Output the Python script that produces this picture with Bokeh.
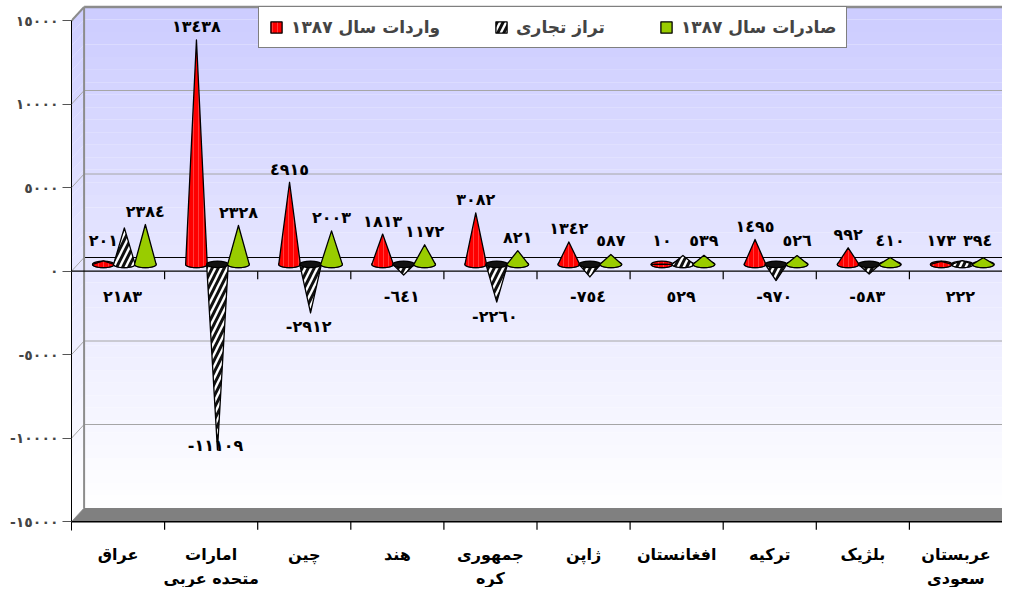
import numpy as np
from bokeh.plotting import figure
from bokeh.models import Range1d, LinearAxis, FixedTicker, Legend, LegendItem
from bokeh.core.properties import value
from bokeh.embed import file_html
from bokeh.resources import INLINE

# ---------------- data ----------------
cat_line1 = ["عراق", "امارات", "چین", "هند", "جمهوری", "ژاپن", "افغانستان", "ترکیه", "بلژیک", "عربستان"]
cat_line2 = ["", "متحده عربی", "", "", "کره", "", "", "", "", "سعودی"]
imports = [201, 13438, 4915, 1813, 3082, 1342, 10, 1495, 992, 173]
balance = [2183, -11109, -2912, -641, -2260, -754, 529, -970, -583, 222]
exports = [2384, 2328, 2003, 1172, 821, 587, 539, 526, 410, 394]
series_names = ["واردات سال ١٣٨٧", "تراز تجاری", "صادرات سال ١٣٨٧"]
y_ticks = [-15000, -10000, -5000, 0, 5000, 10000, 15000]

FONT = "DejaVu Sans"
AR = str.maketrans("0123456789", "٠١٢٣٤٥٦٧٨٩")


def ar(n):
    return ("-" + str(-n).translate(AR)) if n < 0 else str(n).translate(AR)


# ---------------- geometry ----------------
W, H = 1002, 587
LEFT = 71
ZERO = 270.7    # picture y of front zero line
N = len(cat_line1)
KX = (W - LEFT) / N   # px per category
KY = 0.0167     # px per value unit
DX = 12.6 / KX  # depth offset
DY = 13.7 / KY
XEND = (W - LEFT) / KX
YMAX = ZERO / KY
YMIN = YMAX - H / KY


def py(pix):
    """picture y (px) -> value coordinate"""
    return (ZERO - pix) / KY


p = figure(width=W, height=H, output_backend="svg", toolbar_location=None,
           x_range=Range1d(0, XEND), y_range=Range1d(YMIN, YMAX),
           x_axis_type=None, y_axis_type=None,
           min_border_left=LEFT, min_border_right=0, min_border_top=0, min_border_bottom=0,
           background_fill_color="white", border_fill_color="white", outline_line_color=None)

yaxis = LinearAxis(ticker=FixedTicker(ticks=y_ticks), bounds=(-15550, 15000),
                   major_label_overrides={t: ar(t) for t in y_ticks},
                   major_tick_in=0, major_tick_out=9, minor_tick_out=0, minor_tick_in=0,
                   axis_line_color="black", major_tick_line_color="#555555",
                   major_label_text_font=FONT, major_label_text_font_style="bold",
                   major_label_text_font_size="14px", major_label_standoff=4)
p.add_layout(yaxis, "left")


def mix(t):
    top = np.array([204, 204, 255]); bot = np.array([255, 255, 255])
    c = bot + (top - bot) * t
    return "#%02x%02x%02x" % tuple(int(round(v)) for v in c)


# back wall & left wall gradients
NB = 40
edges = np.linspace(-15000, 15000, NB + 1)
bw_l, bw_r, bw_b, bw_t, bw_c = [], [], [], [], []
lw_xs, lw_ys, lw_c = [], [], []
for k in range(NB):
    t = (k + 0.5) / NB
    col = mix(t)
    bw_l.append(DX); bw_r.append(XEND + 1); bw_b.append(edges[k] + DY); bw_t.append(edges[k + 1] + DY + 1); bw_c.append(col)
    lw_xs.append([0, DX, DX, 0])
    lw_ys.append([edges[k], edges[k] + DY, edges[k + 1] + DY + 1, edges[k + 1] + 1])
    lw_c.append(mix(t * 0.95))
p.quad(left=bw_l, right=bw_r, bottom=bw_b, top=bw_t, fill_color=bw_c, line_color=None)
p.patches(xs=lw_xs, ys=lw_ys, fill_color=lw_c, line_color=None)

# gridlines
for v in y_ticks:
    if v == 15000:
        continue
    col = "black" if v == 0 else "#a6a6a6"
    if v != -15000:
        p.segment(x0=[DX], y0=[v + DY], x1=[XEND + 1], y1=[v + DY], line_color=col, line_width=1)
    p.segment(x0=[0], y0=[v], x1=[DX], y1=[v + DY], line_color="#a6a6a6", line_width=1)
# wall borders
p.segment(x0=[DX], y0=[15000 + DY], x1=[XEND + 1], y1=[15000 + DY], line_color="#8c8c8c", line_width=2.5)
p.segment(x0=[0], y0=[15000], x1=[DX], y1=[15000 + DY], line_color="#8c8c8c", line_width=2)
p.segment(x0=[DX], y0=[-15000 + DY], x1=[DX], y1=[15000 + DY], line_color="#8c8c8c", line_width=2)

# floor
p.patch(x=[0, XEND + 1, XEND + 1 + DX, DX], y=[-15000, -15000, -15000 + DY, -15000 + DY],
        fill_color="#808080", line_color=None)

# category axis lines (front zero line and bottom)
TICK = 8 / KY
bx = list(range(1, N + 1))
p.segment(x0=[0], y0=[0], x1=[XEND + 1], y1=[0], line_color="black", line_width=1.2)
p.segment(x0=bx[:-1], y0=[0] * (N - 1), x1=bx[:-1], y1=[-TICK] * (N - 1), line_color="black", line_width=1.2)
p.segment(x0=[0], y0=[-15000], x1=[XEND + 1], y1=[-15000], line_color="black", line_width=1.5)
p.segment(x0=bx[:-1], y0=[-15000] * (N - 1), x1=bx[:-1], y1=[-15000 - TICK] * (N - 1), line_color="black", line_width=1.2)

# ---------------- cones ----------------
RX = 10.8 / KX
RY = 3.3 / KY
SP = 21.0 / KX
BASE = DY / 2
SHIFT = DX / 2
tt = np.linspace(np.pi, 2 * np.pi, 25)

styles = [
    dict(fill_color="#ff0000", hatch_pattern="|", hatch_color="#ff9090", hatch_weight=0.6, hatch_scale=5, hatch_alpha=0.7),
    dict(fill_color="white", hatch_pattern="/", hatch_color="#111111", hatch_weight=3, hatch_scale=12, hatch_alpha=1.0),
    dict(fill_color="#99cc00"),
]
legend_items = []
for s, vals in enumerate([imports, balance, exports]):
    pos_x, pos_y, pos_xs, pos_ys = [], [], [], []
    neg_x, neg_y, neg_xs, neg_ys = [], [], [], []
    for i, v in enumerate(vals):
        cx = i + 0.5 + SHIFT + (s - 1) * SP
        if v >= 0:
            pos_x.append(cx); pos_y.append(BASE)
            pos_xs.append(list(cx + RX * np.cos(tt)) + [cx])
            pos_ys.append(list(BASE + RY * np.sin(tt)) + [BASE + v])
        else:
            neg_x.append(cx); neg_y.append(BASE)
            neg_xs.append([cx - RX, cx, cx + RX])
            neg_ys.append([BASE, BASE + v, BASE])
    st = styles[s]
    r_main = None
    if pos_x:
        p.ellipse(x=pos_x, y=pos_y, width=2 * RX, height=2 * RY, line_color="black", line_width=1.3, **st)
        r_main = p.patches(xs=pos_xs, ys=pos_ys, line_color="black", line_width=1.3, line_join="round", **st)
    if neg_x:
        r_neg = p.patches(xs=neg_xs, ys=neg_ys, line_color="black", line_width=1.3, line_join="round", **st)
        p.ellipse(x=neg_x, y=neg_y, width=2 * RX, height=2 * RY, fill_color="#111111", line_color="black", line_width=1.3)
        if r_main is None:
            r_main = r_neg
    legend_items.append(LegendItem(label=series_names[s], renderers=[r_main]))

# ---------------- data labels ----------------
LBL_GAP = 13 / KY
LBL_MIN = py(240)
tx, ty, tt_ = [], [], []
for s, vals in ((0, imports), (2, exports)):
    for i, v in enumerate(vals):
        cx = i + 0.5 + SHIFT + (s - 1) * SP
        tx.append(cx - (0.06 if s == 2 and i == N - 1 else 0.0))
        ty.append(max(BASE + v + LBL_GAP, LBL_MIN)); tt_.append(ar(v))
for i, v in enumerate(balance):
    cx = i + 0.5 + SHIFT
    tip = BASE + min(v, 0)
    ly = float(np.clip(tip - 14 / KY, py(445), py(296)))
    tx.append(cx - 0.02); ty.append(ly); tt_.append(ar(v))
p.text(x=tx, y=ty, text=tt_, text_font=value(FONT), text_font_style="bold", text_font_size="16px",
       text_align="center", text_baseline="middle", text_color="black")

# ---------------- category labels ----------------
cx_lbl = [i + 0.5 for i in range(N)]
p.text(x=cx_lbl, y=[py(554)] * N, text=cat_line1, text_font=value(FONT), text_font_style="bold",
       text_font_size="16px", text_align="center", text_baseline="middle", text_color="black")
p.text(x=cx_lbl, y=[py(578)] * N, text=cat_line2, text_font=value(FONT), text_font_style="bold",
       text_font_size="16px", text_align="center", text_baseline="middle", text_color="black")

# ---------------- legend ----------------
legend = Legend(items=legend_items, orientation="horizontal", location=(258 - LEFT, H - 48),
                border_line_color="black", border_line_width=1, background_fill_color="white",
                background_fill_alpha=1.0, label_text_font=FONT, label_text_font_style="bold",
                label_text_font_size="17px", glyph_width=14, glyph_height=14, spacing=54,
                padding=10, margin=0, label_standoff=8)
p.add_layout(legend)

open("out.html", "w").write(file_html(p, INLINE))
